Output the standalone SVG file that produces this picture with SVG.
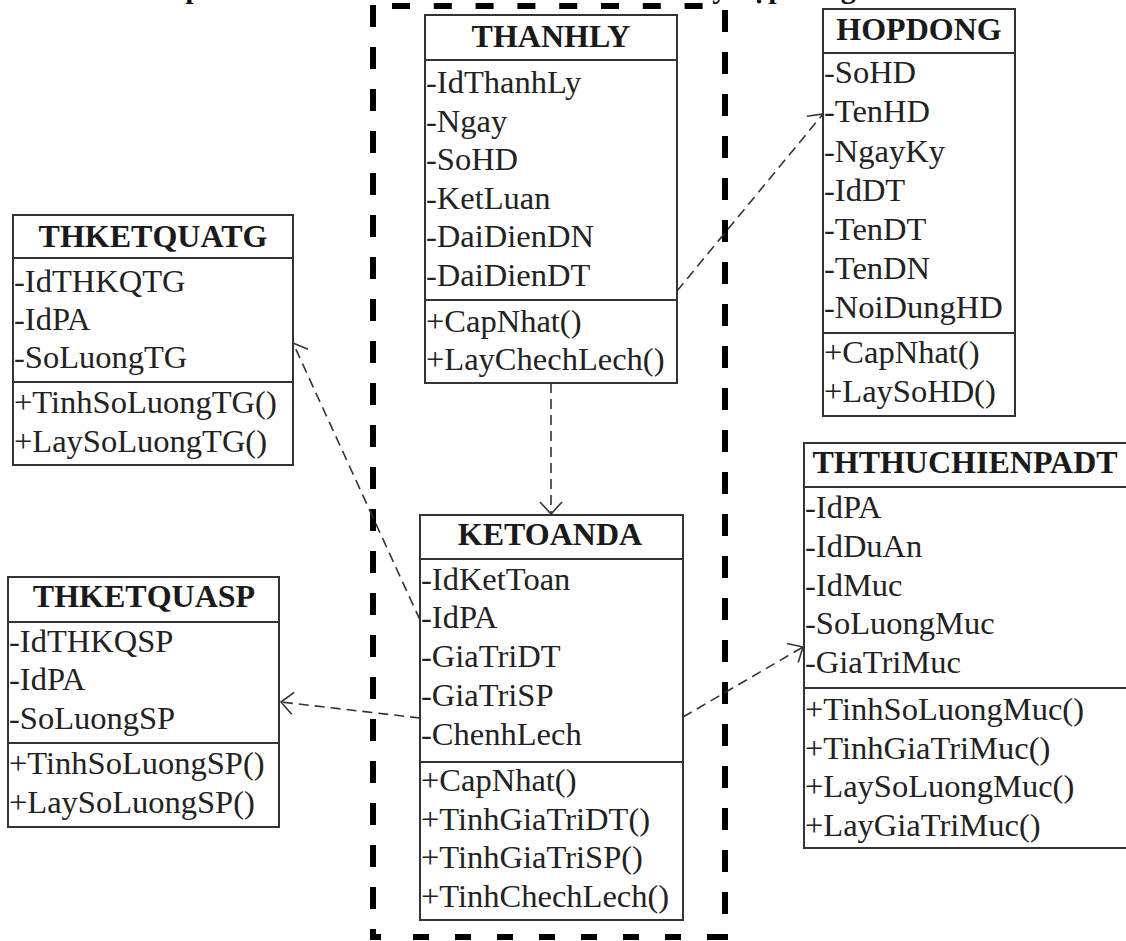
<svg xmlns="http://www.w3.org/2000/svg" width="1126" height="941" viewBox="0 0 1126 941">
  <defs>
    <style>
      .box { fill: #ffffff; stroke: #333333; stroke-width: 2; }
      .sep { stroke: #333333; stroke-width: 2; }
      .name { font-family: "Liberation Serif", "Times New Roman", serif; font-weight: bold; font-size: 32px; fill: #1a1a1a; text-anchor: middle; }
      .mem { font-family: "Liberation Serif", "Times New Roman", serif; font-size: 32.5px; fill: #222222; }
      .title { font-family: "Liberation Serif", "Times New Roman", serif; font-weight: bold; font-size: 30px; fill: #111111; }
      .dep { fill: none; stroke: #333333; stroke-width: 1.6; stroke-dasharray: 10 6; marker-end: url(#open); }
      .frame { stroke: #000000; stroke-width: 6; fill: none; }
    </style>
    <marker id="open" viewBox="-14 -13 16 26" markerWidth="16" markerHeight="26" refX="0" refY="0" orient="auto" markerUnits="userSpaceOnUse">
      <path d="M -12 -11 L 0 0 L -12 11" fill="none" stroke="#333333" stroke-width="1.6"/>
    </marker>
  </defs>

  <rect width="1126" height="941" fill="#ffffff"/>

  <!-- caption line, mostly above the top edge -->
  <text class="title" x="202" y="-2" text-anchor="end">lớp</text>
  <text class="title" x="704" y="-2">lý hợp đồng</text>

  <!-- package frame -->
  <g id="frame">
    <line class="frame" x1="392" y1="6" x2="706" y2="6" stroke-dasharray="18 23.8"/>
    <line class="frame" x1="373" y1="5" x2="373" y2="940" stroke-dasharray="22 20"/>
    <line class="frame" x1="725" y1="10" x2="725" y2="940" stroke-dasharray="22 20"/>
    <line class="frame" x1="413" y1="937" x2="726" y2="937" stroke-dasharray="16 26"/>
    <line class="frame" x1="370" y1="937" x2="381" y2="937"/>
  </g>

  <!-- dependencies -->
  <g id="connectors">
    <line class="dep" x1="551" y1="383" x2="551" y2="514"/>
    <line class="dep" x1="677" y1="291" x2="823" y2="114"/>
    <line class="dep" x1="420" y1="620" x2="293" y2="343"/>
    <line class="dep" x1="420" y1="718" x2="281" y2="702"/>
    <line class="dep" x1="683" y1="717" x2="803" y2="647"/>
  </g>

  <g id="THANHLY">
    <rect class="box" x="425" y="15" width="252" height="368"/>
    <line class="sep" x1="425" y1="60" x2="677" y2="60"/>
    <line class="sep" x1="425" y1="300" x2="677" y2="300"/>
    <text class="name" x="551" y="47">THANHLY</text>
    <text class="mem" x="426" y="93">-IdThanhLy</text>
    <text class="mem" x="426" y="131.6">-Ngay</text>
    <text class="mem" x="426" y="170.2">-SoHD</text>
    <text class="mem" x="426" y="208.8">-KetLuan</text>
    <text class="mem" x="426" y="247.4">-DaiDienDN</text>
    <text class="mem" x="426" y="286">-DaiDienDT</text>
    <text class="mem" x="426" y="332">+CapNhat()</text>
    <text class="mem" x="426" y="370">+LayChechLech()</text>
  </g>

  <g id="HOPDONG">
    <rect class="box" x="823" y="9" width="192" height="407"/>
    <line class="sep" x1="823" y1="53" x2="1015" y2="53"/>
    <line class="sep" x1="823" y1="333" x2="1015" y2="333"/>
    <text class="name" x="919" y="40">HOPDONG</text>
    <text class="mem" x="824" y="83">-SoHD</text>
    <text class="mem" x="824" y="122">-TenHD</text>
    <text class="mem" x="824" y="162">-NgayKy</text>
    <text class="mem" x="824" y="201">-IdDT</text>
    <text class="mem" x="824" y="240">-TenDT</text>
    <text class="mem" x="824" y="279">-TenDN</text>
    <text class="mem" x="824" y="318">-NoiDungHD</text>
    <text class="mem" x="824" y="363">+CapNhat()</text>
    <text class="mem" x="824" y="402">+LaySoHD()</text>
  </g>

  <g id="THKETQUATG">
    <rect class="box" x="13" y="215" width="280" height="250"/>
    <line class="sep" x1="13" y1="258" x2="293" y2="258"/>
    <line class="sep" x1="13" y1="382" x2="293" y2="382"/>
    <text class="name" x="153" y="247">THKETQUATG</text>
    <text class="mem" x="14" y="292">-IdTHKQTG</text>
    <text class="mem" x="14" y="330">-IdPA</text>
    <text class="mem" x="14" y="368">-SoLuongTG</text>
    <text class="mem" x="14" y="413">+TinhSoLuongTG()</text>
    <text class="mem" x="14" y="452">+LaySoLuongTG()</text>
  </g>

  <g id="THKETQUASP">
    <rect class="box" x="8" y="577" width="271" height="250"/>
    <line class="sep" x1="8" y1="622" x2="279" y2="622"/>
    <line class="sep" x1="8" y1="743" x2="279" y2="743"/>
    <text class="name" x="144" y="607">THKETQUASP</text>
    <text class="mem" x="9" y="652">-IdTHKQSP</text>
    <text class="mem" x="9" y="690">-IdPA</text>
    <text class="mem" x="9" y="729">-SoLuongSP</text>
    <text class="mem" x="9" y="774">+TinhSoLuongSP()</text>
    <text class="mem" x="9" y="813">+LaySoLuongSP()</text>
  </g>

  <g id="KETOANDA">
    <rect class="box" x="420" y="515" width="263" height="405"/>
    <line class="sep" x1="420" y1="559" x2="683" y2="559"/>
    <line class="sep" x1="420" y1="762" x2="683" y2="762"/>
    <text class="name" x="550" y="545">KETOANDA</text>
    <text class="mem" x="421" y="590">-IdKetToan</text>
    <text class="mem" x="421" y="628">-IdPA</text>
    <text class="mem" x="421" y="667">-GiaTriDT</text>
    <text class="mem" x="421" y="706">-GiaTriSP</text>
    <text class="mem" x="421" y="745">-ChenhLech</text>
    <text class="mem" x="421" y="791">+CapNhat()</text>
    <text class="mem" x="421" y="830">+TinhGiaTriDT()</text>
    <text class="mem" x="421" y="868">+TinhGiaTriSP()</text>
    <text class="mem" x="421" y="907">+TinhChechLech()</text>
  </g>

  <g id="THTHUCHIENPADT">
    <rect class="box" x="804" y="443" width="324" height="405"/>
    <line class="sep" x1="804" y1="487" x2="1128" y2="487"/>
    <line class="sep" x1="804" y1="688" x2="1128" y2="688"/>
    <text class="name" x="965" y="473">THTHUCHIENPADT</text>
    <text class="mem" x="805" y="518">-IdPA</text>
    <text class="mem" x="805" y="557">-IdDuAn</text>
    <text class="mem" x="805" y="596">-IdMuc</text>
    <text class="mem" x="805" y="634">-SoLuongMuc</text>
    <text class="mem" x="805" y="673">-GiaTriMuc</text>
    <text class="mem" x="805" y="720">+TinhSoLuongMuc()</text>
    <text class="mem" x="805" y="759">+TinhGiaTriMuc()</text>
    <text class="mem" x="805" y="797">+LaySoLuongMuc()</text>
    <text class="mem" x="805" y="836">+LayGiaTriMuc()</text>
  </g>
</svg>
